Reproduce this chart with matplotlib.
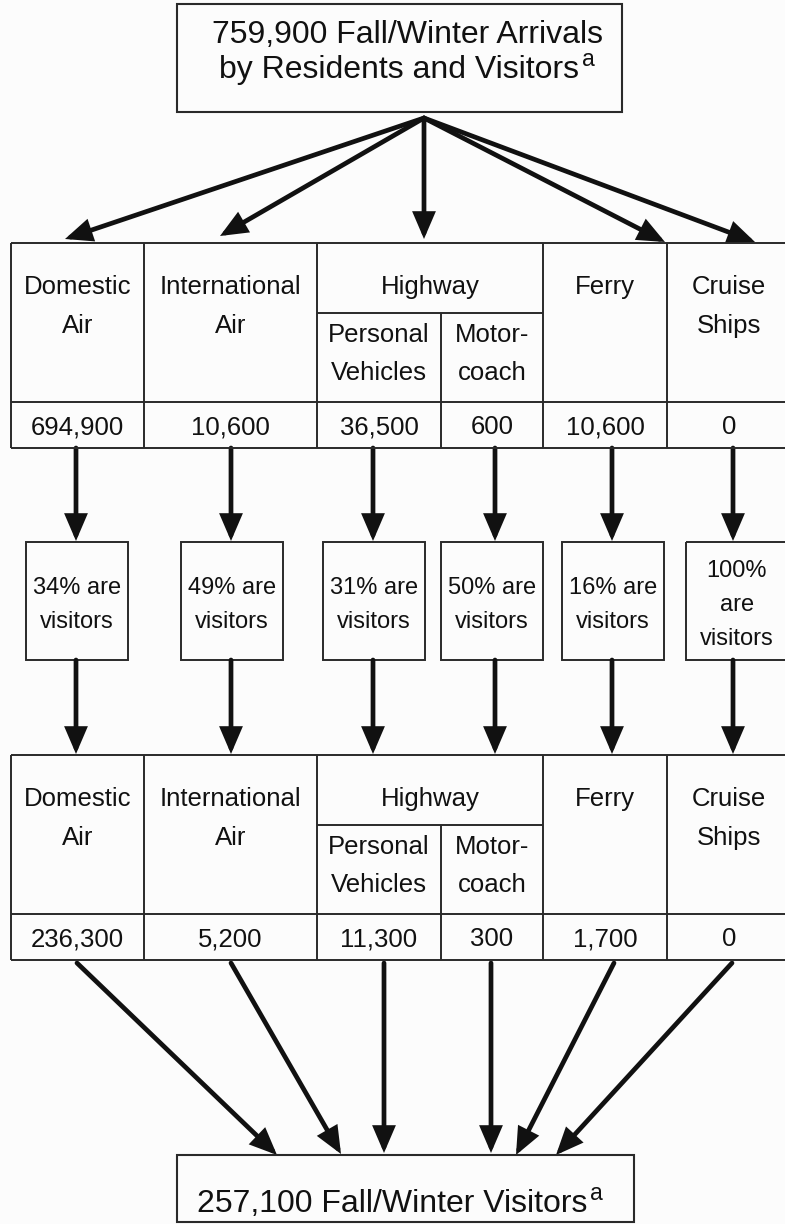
import matplotlib.pyplot as plt
from matplotlib.patches import Rectangle, FancyArrowPatch

# flow of fall/winter arrivals -> visitors
total_arrivals = 759900
total_visitors = 257100
mode_labels = ['Domestic\nAir', 'International\nAir', 'Highway', 'Ferry', 'Cruise\nShips']
highway_labels = ['Personal\nVehicles', 'Motor-\ncoach']
arrivals = [694900, 10600, 36500, 600, 10600, 0]
visitor_pct = [34, 49, 31, 50, 16, 100]
visitors = [236300, 5200, 11300, 300, 1700, 0]

FONT = ['Liberation Sans', 'DejaVu Sans']
INK = '#111111'
LINE = '#2a2a2a'
W, H = 785, 1224

fig = plt.figure(figsize=(W / 100, H / 100), dpi=100)
fig.patch.set_facecolor('#fcfcfc')
ax = fig.add_axes([0, 0, 1, 1])
ax.set_xlim(0, W)
ax.set_ylim(H, 0)
ax.axis('off')

# layout in pixels
edges = [11, 144, 317, 441, 543, 667, 786]      # six sub-columns
mode_edges = [11, 144, 317, 543, 667, 786]      # five top-level columns
arrow_x = [76, 231, 373, 495, 612, 733]
box_left = [26, 181, 323, 441, 562, 686]
box_w = 102
TBL = 18.5   # table font size
PCT = 17


def put_lines(x, y0, text, size, sp):
    for i, s in enumerate(text.split('\n')):
        ax.text(x, y0 + i * sp, s, ha='center', va='baseline', fontsize=size,
                family=FONT, color=INK)


def arrow(x0, y0, x1, y1):
    ax.add_patch(FancyArrowPatch((x0, y0), (x1, y1),
                                 arrowstyle='-|>,head_length=0.7,head_width=0.3',
                                 mutation_scale=20, lw=3.4, color=INK,
                                 shrinkA=0, shrinkB=0, joinstyle='miter'))


def hline(y, x0, x1):
    ax.plot([x0, x1], [y, y], color=LINE, lw=1.4, solid_capstyle='butt')


def vline(x, y0, y1):
    ax.plot([x, x], [y0, y1], color=LINE, lw=1.4, solid_capstyle='butt')


def table(top, values):
    hdr = top + 159
    bot = top + 205
    hi_line = top + 70
    for y in [top, hdr, bot]:
        hline(y, edges[0], edges[-1])
    for x in mode_edges:
        vline(x, top, bot)
    hline(hi_line, edges[2], edges[4])
    vline(edges[3], hi_line, bot)
    for i, lab in enumerate(mode_labels):
        cx = (mode_edges[i] + mode_edges[i + 1]) / 2
        if i == 4:
            cx = 729
        put_lines(cx, top + 51, lab, TBL, 39)
    for j, lab in enumerate(highway_labels):
        cx = (edges[2 + j] + edges[3 + j]) / 2
        put_lines(cx, top + 99, lab, TBL, 38)
    for k, v in enumerate(values):
        cx = (edges[k] + edges[k + 1]) / 2
        if k == 5:
            cx = 729
        put_lines(cx, top + 191, f'{v:,}', TBL, 0)


def titled_box(x0, x1, y0, y1, lines, baselines, size, centers):
    ax.add_patch(Rectangle((x0, y0), x1 - x0, y1 - y0, fill=False,
                           edgecolor=LINE, lw=1.5))
    t = None
    for s, yb, cx in zip(lines, baselines, centers):
        t = ax.text(cx, yb, s, ha='center', va='baseline', fontsize=size,
                    family=FONT, color=INK)
    # superscript "a" after the last line
    fig.canvas.draw()
    bb = t.get_window_extent(fig.canvas.get_renderer())
    xe = ax.transData.inverted().transform((bb.x1, bb.y0))[0]
    ax.text(xe + 3, baselines[-1] - 12, 'a', ha='left', va='baseline',
            fontsize=size * 0.72, family=FONT, color=INK)


# top box
titled_box(177, 622, 4, 112,
           [f'{total_arrivals:,} Fall/Winter Arrivals', 'by Residents and Visitors'],
           [43, 78], 23, [407, 399])

# fan-out arrows
fan_tips = [(65, 239), (220, 236), (424, 239), (665, 242), (755, 242)]
for tx, ty in fan_tips:
    arrow(424, 118, tx, ty)

table(243, arrivals)

# percent boxes
for i, p in enumerate(visitor_pct):
    arrow(arrow_x[i], 448, arrow_x[i], 541)
    ax.add_patch(Rectangle((box_left[i], 542), box_w, 118, fill=False,
                           edgecolor=LINE, lw=1.4))
    txt = f'{p}% are\nvisitors' if p < 100 else f'{p}%\nare\nvisitors'
    n = txt.count('\n') + 1
    cx = box_left[i] + box_w / 2
    put_lines(cx, 611 - (n - 1) * 34 / 2, txt, PCT, 34)
    arrow(arrow_x[i], 660, arrow_x[i], 754)

table(755, visitors)

# fan-in arrows
starts = [(77, 963), (231, 963), (384, 963), (491, 963), (614, 963), (732, 963)]
ends = [(277, 1155), (341, 1154), (384, 1153), (491, 1153), (516, 1155), (556, 1155)]
for (sx, sy), (ex, ey) in zip(starts, ends):
    arrow(sx, sy, ex, ey)

# bottom box
titled_box(177, 634, 1155, 1222, [f'{total_visitors:,} Fall/Winter Visitors'],
           [1212], 23, [392])

fig.savefig('out.png', dpi=100, facecolor=fig.get_facecolor())
